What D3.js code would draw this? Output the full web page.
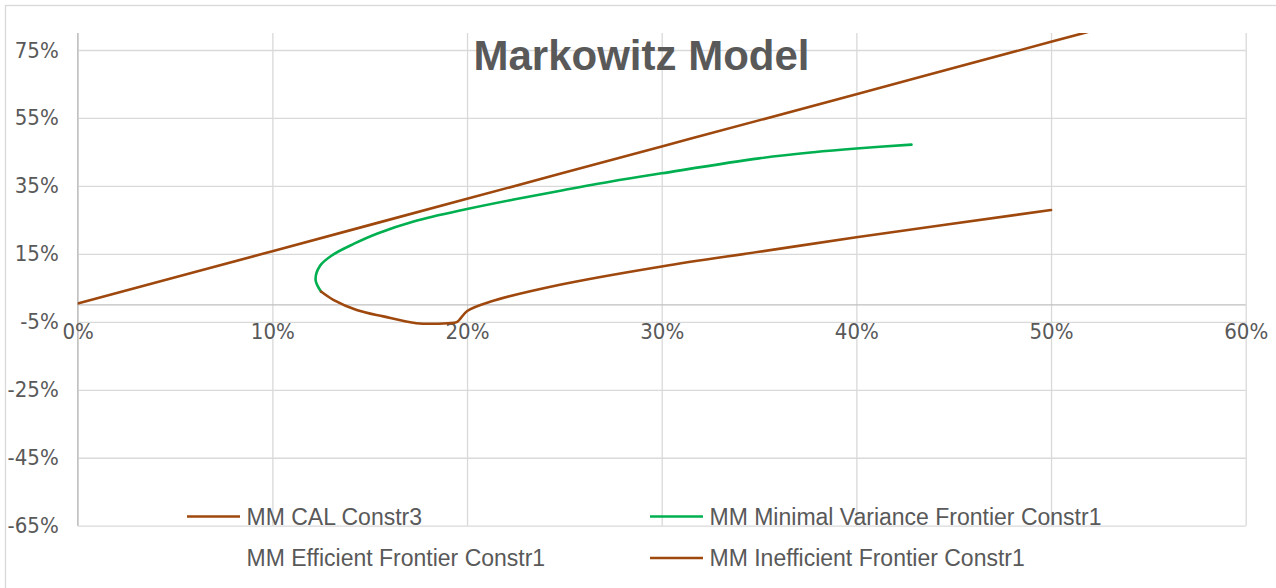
<!DOCTYPE html>
<html>
<head>
<meta charset="utf-8">
<script src="https://cdn.jsdelivr.net/npm/d3@7"></script>
<style>
  body { margin: 0; background: #fff; }
  svg { display: block; }
</style>
</head>
<body>
<div id="chart"></div>
<script>
// tick values
const xTicks = [0, 0.1, 0.2, 0.3, 0.4, 0.5, 0.6];
const yTicks = [-0.65, -0.45, -0.25, -0.05, 0.15, 0.35, 0.55, 0.75];

// capital allocation line
const calRisk   = [0, 0.10, 0.20, 0.30, 0.40, 0.50, 0.55];
const calReturn = [0.004, 0.158, 0.312, 0.466, 0.620, 0.774, 0.851];

// minimal variance frontier (lower tip, vertex, then upper branch)
const mvfRisk   = [0.1250, 0.1222, 0.1245, 0.1310, 0.1420, 0.1540, 0.1730, 0.2000, 0.2240, 0.2480, 0.2740, 0.3000, 0.3500, 0.3780, 0.4000, 0.4283];
const mvfReturn = [0.039, 0.0735, 0.115, 0.147, 0.180, 0.210, 0.246, 0.282, 0.310, 0.336, 0.363, 0.387, 0.431, 0.449, 0.460, 0.4715];

// inefficient frontier
const ineffRisk   = [0.1250, 0.1313, 0.1433, 0.1570, 0.1740, 0.1903, 0.1947, 0.2001, 0.2118, 0.2477, 0.3000, 0.3500, 0.4000, 0.5000];
const ineffReturn = [0.039, 0.0147, -0.015, -0.034, -0.054, -0.054, -0.051, -0.018, 0.009, 0.059, 0.113, 0.156, 0.199, 0.279];

const seriesNames  = ["MM CAL Constr3", "MM Minimal Variance Frontier Constr1", "MM Efficient Frontier Constr1", "MM Inefficient Frontier Constr1"];
const seriesColors = ["#9E480E", "#00B050", "none", "#9E480E"];

const width = 1276;
const height = 588;
const plot = { left: 77.7, right: 1245.7, top: 33, bottom: 525.7 };

const svg = d3.select("#chart")
    .append("svg")
    .attr("width", width)
    .attr("height", height);

// chart border
svg.append("rect")
    .attr("x", 5.5)
    .attr("y", 5.5)
    .attr("width", 1300)
    .attr("height", 620)
    .attr("fill", "#fff")
    .attr("stroke", "#d9d9d9")
    .attr("stroke-width", 1.3);

const x = d3.scaleLinear().domain([0, 0.6]).range([plot.left, plot.right]);
const y = d3.scaleLinear().domain([-0.65, 0.80]).range([plot.bottom, plot.top]);

const pct = d => Math.round(d * 100) + "%";
const labelFont = "'Liberation Sans Narrow', 'DejaVu Sans Condensed', 'Liberation Sans', sans-serif";

// gridlines
svg.append("g")
    .attr("transform", `translate(${plot.left},0)`)
    .call(d3.axisLeft(y).tickValues(yTicks).tickSize(-(plot.right - plot.left)).tickFormat(""))
    .call(g => g.select(".domain").remove())
    .call(g => g.selectAll("line").attr("stroke", "#d9d9d9").attr("stroke-width", 1.3));

svg.append("g")
    .attr("transform", `translate(0,${plot.bottom})`)
    .call(d3.axisBottom(x).tickValues(xTicks).tickSize(-(plot.bottom - plot.top)).tickFormat(""))
    .call(g => g.select(".domain").remove())
    .call(g => g.selectAll("line").attr("stroke", "#d9d9d9").attr("stroke-width", 1.3));

// axis lines
svg.append("line")
    .attr("x1", plot.left).attr("x2", plot.left)
    .attr("y1", plot.top).attr("y2", plot.bottom)
    .attr("stroke", "#bfbfbf").attr("stroke-width", 1.3);

svg.append("line")
    .attr("x1", plot.left).attr("x2", plot.right)
    .attr("y1", y(0)).attr("y2", y(0))
    .attr("stroke", "#bfbfbf").attr("stroke-width", 1.3);

// tick labels
svg.append("g")
    .attr("transform", `translate(${plot.left},0)`)
    .call(d3.axisLeft(y).tickValues(yTicks).tickSize(0).tickPadding(19).tickFormat(pct))
    .call(g => g.select(".domain").remove())
    .call(g => g.selectAll("text")
        .attr("fill", "#595959")
        .style("font-family", labelFont)
        .style("font-size", "22px"));

svg.append("g")
    .attr("transform", `translate(0,${y(0)})`)
    .call(d3.axisBottom(x).tickValues(xTicks).tickSize(0).tickPadding(19).tickFormat(pct))
    .call(g => g.select(".domain").remove())
    .call(g => g.selectAll("text")
        .attr("fill", "#595959")
        .style("font-family", labelFont)
        .style("font-size", "22px"));

// lines
svg.append("clipPath")
    .attr("id", "plot-clip")
    .append("rect")
    .attr("x", plot.left)
    .attr("y", plot.top)
    .attr("width", plot.right - plot.left)
    .attr("height", plot.bottom - plot.top);

const line = d3.line()
    .x(d => x(d[0]))
    .y(d => y(d[1]))
    .curve(d3.curveCatmullRom.alpha(0.5));

const lines = [
    { pts: d3.zip(calRisk, calReturn), color: seriesColors[0] },
    { pts: d3.zip(mvfRisk, mvfReturn), color: seriesColors[1] },
    { pts: d3.zip(ineffRisk, ineffReturn), color: seriesColors[3] }
];

svg.append("g")
    .attr("clip-path", "url(#plot-clip)")
    .selectAll("path")
    .data(lines)
    .enter()
    .append("path")
    .attr("d", d => line(d.pts))
    .attr("fill", "none")
    .attr("stroke", d => d.color)
    .attr("stroke-width", 2.6)
    .attr("stroke-linejoin", "round")
    .attr("stroke-linecap", "round");

// title
svg.append("text")
    .attr("x", 641.5)
    .attr("y", 70)
    .attr("text-anchor", "middle")
    .attr("fill", "#595959")
    .style("font-family", "'Liberation Sans', Arial, sans-serif")
    .style("font-weight", "bold")
    .style("font-size", "42px")
    .text("Markowitz Model");

// legend
const legend = svg.append("g")
    .selectAll("g")
    .data(seriesNames)
    .enter()
    .append("g")
    .attr("transform", (d, i) => `translate(${187 + (i % 2) * 463}, ${516.5 + Math.floor(i / 2) * 41.5})`);

legend.append("line")
    .attr("x1", 0)
    .attr("x2", 53)
    .attr("stroke", (d, i) => seriesColors[i])
    .attr("stroke-width", 2.6);

legend.append("text")
    .attr("x", 59.5)
    .attr("y", 8.3)
    .attr("fill", "#595959")
    .style("font-family", "'Liberation Sans', Arial, sans-serif")
    .style("font-size", "23px")
    .text(d => d);
</script>
</body>
</html>
